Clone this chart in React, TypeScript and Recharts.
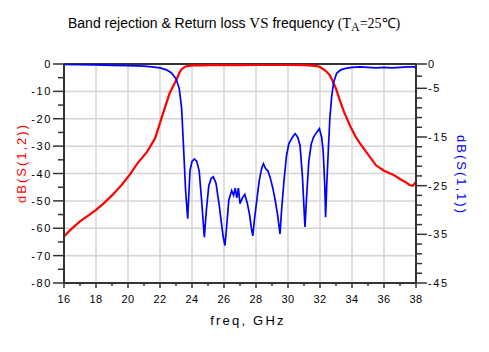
import React from 'react';
import { ComposedChart, Line, XAxis, YAxis, ReferenceLine } from 'recharts';

const freqTicks = [16, 17, 18, 19, 20, 21, 22, 23, 24, 25, 26, 27, 28, 29, 30, 31, 32, 33, 34, 35, 36, 37, 38];
const freqGrid = [18, 20, 22, 24, 26, 28, 30, 32, 34, 36];
const leftTicks = [-80, -75, -70, -65, -60, -55, -50, -45, -40, -35, -30, -25, -20, -15, -10, -5, 0];
const leftGrid = [-10, -20, -30, -40, -50, -60, -70];
const rightTicks = [0, -2.5, -5, -7, -9, -11, -13, -15, -17, -19, -21, -23, -25, -27, -29, -31, -33, -35, -37, -39, -41, -43, -45];
const rightLabels = [0, -5, -15, -25, -35, -45];

const s12Freq = [16, 16.4, 17, 17.6, 18, 18.5, 19, 19.6, 20.1, 20.6, 21.2, 21.7, 22, 22.3, 22.6, 22.85, 23.05, 23.2, 23.35, 23.6, 24, 24.5, 25, 26, 27, 28, 29, 30, 31, 31.5, 31.8, 32, 32.3, 32.6, 32.8, 33, 33.25, 33.5, 33.9, 34.2, 34.5, 35, 35.5, 36, 36.6, 37, 37.3, 37.6, 37.8, 38];
const s12Db = [-63, -60.6, -57.5, -55, -53.3, -50.8, -48, -44.2, -40.5, -36.2, -32, -27.1, -21.5, -16, -10.7, -7.8, -5.5, -3.4, -1.9, -0.9, -0.5, -0.5, -0.4, -0.4, -0.4, -0.3, -0.3, -0.3, -0.4, -0.6, -0.8, -1.1, -2.2, -4, -6.3, -9, -13.5, -17.5, -22.8, -26.3, -29, -33, -37, -39, -40.5, -42, -43, -44.2, -44.5, -43];

const s11Freq = [16, 17, 18, 19, 20, 21, 21.5, 22, 22.4, 22.7, 23, 23.2, 23.35, 23.46, 23.6, 23.73, 23.8, 23.875, 24, 24.15, 24.3, 24.45, 24.6, 24.77, 24.9, 25.05, 25.2, 25.33, 25.5, 25.7, 25.85, 25.95, 26.06, 26.15, 26.3, 26.48, 26.6, 26.7, 26.8, 26.9, 27, 27.15, 27.3, 27.45, 27.6, 27.7, 27.8, 27.9, 28.05, 28.2, 28.35, 28.46, 28.6, 28.75, 28.9, 29.05, 29.2, 29.35, 29.5, 29.6, 29.75, 29.9, 30.05, 30.25, 30.44, 30.6, 30.75, 30.9, 31.06, 31.15, 31.3, 31.45, 31.6, 31.8, 31.96, 32.1, 32.2, 32.3, 32.35, 32.42, 32.52, 32.62, 32.73, 32.85, 33.04, 33.3, 33.6, 34, 34.5, 35, 35.5, 36, 36.5, 37, 37.5, 37.9, 38];
const s11Db = [-0.1, -0.15, -0.2, -0.3, -0.35, -0.45, -0.6, -0.8, -1.2, -1.8, -3, -5, -9, -16.3, -26, -31.8, -27, -21.9, -20, -19.5, -20, -22, -28, -35.6, -30, -25, -23.5, -23.2, -24.5, -29, -33, -35.5, -37.3, -34, -28, -26, -27, -25.5, -27.5, -25.5, -28.7, -27.5, -26.8, -28.5, -31, -33.5, -35.3, -32, -28, -24, -21.5, -20.5, -21.5, -22, -23.5, -25.5, -28, -31, -34.9, -30, -24, -19, -16.4, -15.2, -14.3, -15, -16.7, -23, -33.5, -28, -20, -16.5, -15, -14, -13.3, -15, -18, -25, -31.5, -25, -17.7, -11, -6.7, -3.8, -1.9, -1.2, -0.9, -0.7, -0.6, -0.7, -0.8, -0.7, -0.8, -0.7, -0.6, -0.6, -0.9];

const s12Data = s12Freq.map((f, i) => ({ f, v: s12Db[i] }));
const s11Data = s11Freq.map((f, i) => ({ f, v: s11Db[i] }));

const FONT = 'Arial, "Liberation Sans", sans-serif';
const SERIF = '"Liberation Serif", "Times New Roman", serif';
const AX = '#333333';

const XTick = (props: any) => {
  const { x, y, payload } = props;
  const v = payload.value;
  const major = v % 2 === 0;
  return (
    <g>
      <line x1={x} x2={x} y1={y} y2={y + (major ? 5 : 3)} stroke={AX} strokeWidth={1.5} />
      {major && (
        <text x={x} y={y + 20} textAnchor="middle" fontSize={11} fontFamily={FONT} fill="#000" style={{ letterSpacing: 0.5 }}>
          {v}
        </text>
      )}
    </g>
  );
};

const LeftTick = (props: any) => {
  const { x, y, payload } = props;
  const v = payload.value;
  const major = v % 10 === 0;
  return (
    <g>
      <line x1={x} x2={x - (major ? 11 : 6)} y1={y} y2={y} stroke={AX} strokeWidth={1.5} />
      {major && (
        <text x={x - 12} y={y + 4} textAnchor="end" fontSize={11} fontFamily={FONT} fill="#000" style={{ letterSpacing: 1.6 }}>
          {v}
        </text>
      )}
    </g>
  );
};

const RightTick = (props: any) => {
  const { x, y, payload } = props;
  const v = payload.value;
  const major = rightLabels.includes(v);
  return (
    <g>
      <line x1={x} x2={x + (major ? 11 : 6)} y1={y} y2={y} stroke={AX} strokeWidth={1.5} />
      {major && (
        <text x={x + 12} y={y + 4} textAnchor="start" fontSize={11} fontFamily={FONT} fill="#000" style={{ letterSpacing: 1.6 }}>
          {v}
        </text>
      )}
    </g>
  );
};

export default function App() {
  return (
    <div style={{ position: 'absolute', left: 0, top: 0, width: 489, height: 352, background: '#fff', fontFamily: FONT }}>
      <div style={{ position: 'absolute', left: 68, top: 15, fontSize: 14, lineHeight: '16px', whiteSpace: 'nowrap', color: '#000' }}>
        Band rejection &amp; Return loss{' '}
        <span style={{ fontFamily: SERIF, fontSize: 15 }}>VS</span> frequency{' '}
        <span style={{ fontFamily: SERIF, fontSize: 14 }}>
          (T<sub style={{ fontSize: 12, verticalAlign: '-3px' }}>A</sub>=25℃)
        </span>
      </div>
      <ComposedChart width={489} height={352} margin={{ top: 64, right: 23, bottom: 39, left: 14 }}>
        <XAxis
          xAxisId="x"
          dataKey="f"
          type="number"
          domain={[16, 38]}
          ticks={freqTicks}
          interval={0}
          tickSize={0}
          tickMargin={0}
          tickLine={false}
          height={30}
          axisLine={{ stroke: AX, strokeWidth: 2 }}
          tick={<XTick />}
          allowDataOverflow
        />
        <YAxis
          yAxisId="left"
          orientation="left"
          type="number"
          domain={[-80, 0]}
          ticks={leftTicks}
          interval={0}
          tickSize={0}
          tickMargin={0}
          tickLine={false}
          width={50}
          axisLine={{ stroke: AX, strokeWidth: 2 }}
          tick={<LeftTick />}
          allowDataOverflow
        />
        <YAxis
          yAxisId="right"
          orientation="right"
          type="number"
          domain={[-45, 0]}
          ticks={rightTicks}
          interval={0}
          tickSize={0}
          tickMargin={0}
          tickLine={false}
          width={50}
          axisLine={{ stroke: AX, strokeWidth: 2 }}
          tick={<RightTick />}
          allowDataOverflow
        />
        {freqGrid.map((g) => (
          <ReferenceLine key={'vx' + g} xAxisId="x" yAxisId="left" x={g} stroke="#d4d4d4" strokeWidth={1.5} />
        ))}
        {leftGrid.map((g) => (
          <ReferenceLine key={'hy' + g} xAxisId="x" yAxisId="left" y={g} stroke="#d4d4d4" strokeWidth={1.5} />
        ))}
        <ReferenceLine xAxisId="x" yAxisId="left" y={0} stroke={AX} strokeWidth={2} />
        <Line
          xAxisId="x"
          yAxisId="left"
          data={s12Data}
          dataKey="v"
          type="linear"
          stroke="#ff0000"
          strokeWidth={2.2}
          dot={false}
          isAnimationActive={false}
        />
        <Line
          xAxisId="x"
          yAxisId="right"
          data={s11Data}
          dataKey="v"
          type="linear"
          stroke="#0000ff"
          strokeWidth={1.7}
          dot={false}
          isAnimationActive={false}
        />
      </ComposedChart>
      <div style={{ position: 'absolute', left: 148, top: 313, width: 200, textAlign: 'center', fontSize: 13, lineHeight: '15px', letterSpacing: 2.2, color: '#000' }}>
        freq, GHz
      </div>
      <div style={{ position: 'absolute', left: 21, top: 163, transform: 'translate(-50%, -50%) rotate(-90deg)', fontSize: 13, lineHeight: '15px', letterSpacing: 2, color: '#ff0000', whiteSpace: 'nowrap' }}>
        dB(S(1,2))
      </div>
      <div style={{ position: 'absolute', left: 461, top: 175, transform: 'translate(-50%, -50%) rotate(90deg)', fontSize: 13, lineHeight: '15px', letterSpacing: 2, color: '#0000ff', whiteSpace: 'nowrap' }}>
        dB(S(1,1))
      </div>
    </div>
  );
}
